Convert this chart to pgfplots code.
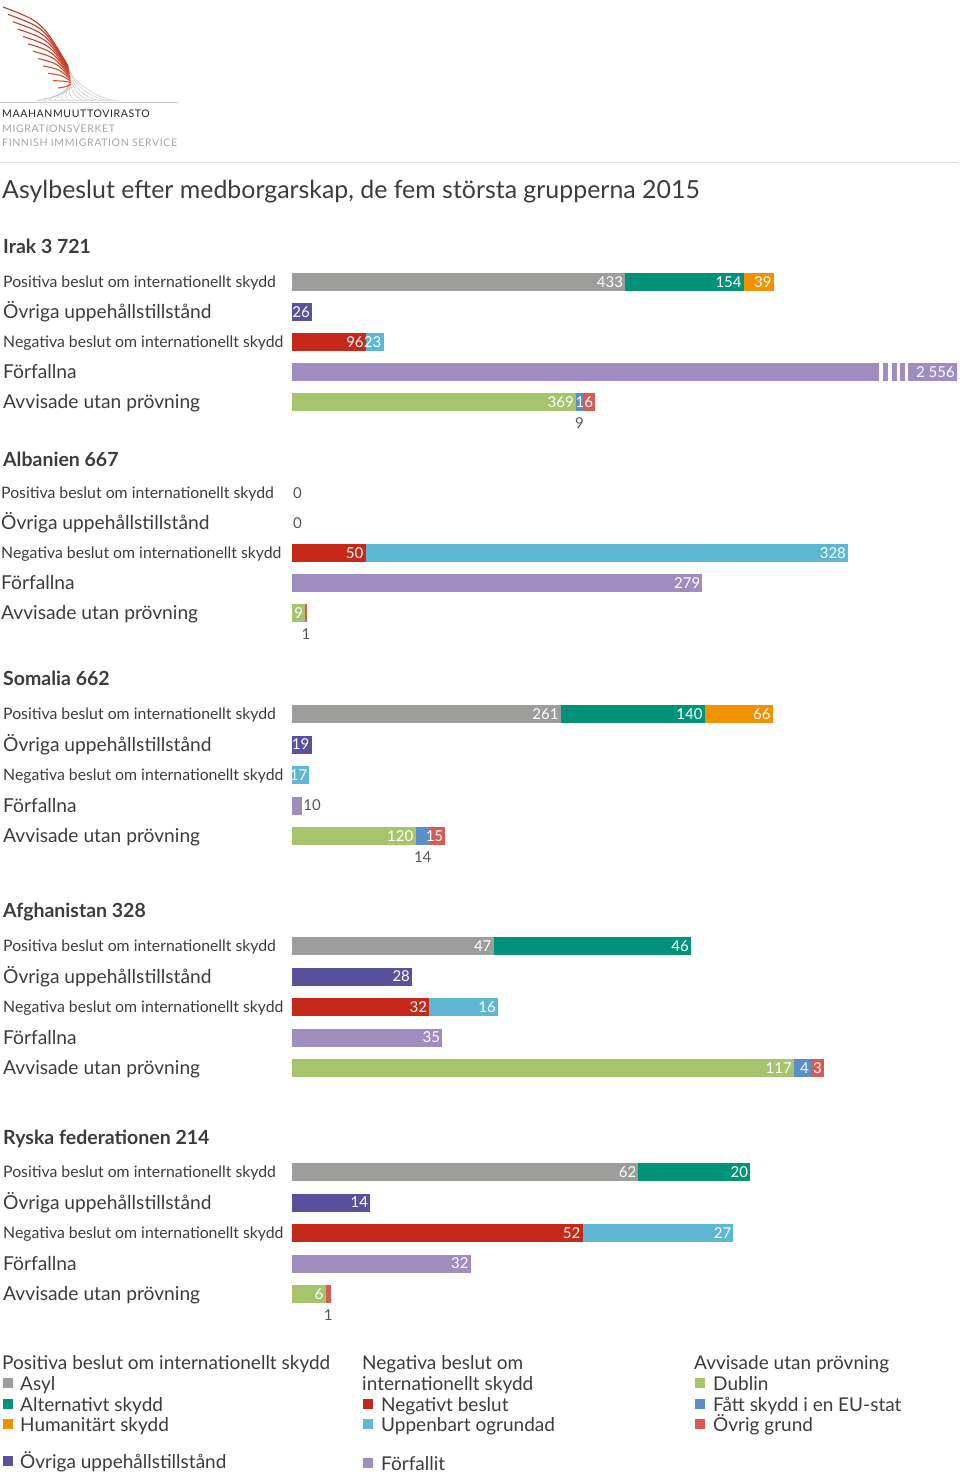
\documentclass[border=0pt]{standalone}
\usepackage{pgfplots}
\pgfplotsset{compat=1.18}
\usepackage{pgfplotstable}
\usepackage{fontspec}
\setmainfont{Lato}
\definecolor{cAsyl}{HTML}{9D9D9C}
\definecolor{cAlt}{HTML}{00937A}
\definecolor{cHum}{HTML}{F39200}
\definecolor{cOvr}{HTML}{5A519C}
\definecolor{cNeg}{HTML}{C6281A}
\definecolor{cUpp}{HTML}{5DB7D3}
\definecolor{cForf}{HTML}{A08DBF}
\definecolor{cDub}{HTML}{A6C46B}
\definecolor{cEU}{HTML}{5A8DCA}
\definecolor{cOvg}{HTML}{D65B55}
\definecolor{txt}{HTML}{3C3C3B}
\definecolor{txtl}{HTML}{555555}
\definecolor{logoR}{HTML}{C0392B}
\definecolor{logoO}{HTML}{E8652C}

\pgfplotstableread{
row asyl alt hum ovr neg upp forf dub eu ovg
0 433 154 39 0 0 0 0 0 0 0
1 0 0 0 26 0 0 0 0 0 0
2 0 0 0 0 96 23 0 0 0 0
3 0 0 0 0 0 0 2556 0 0 0
4 0 0 0 0 0 0 0 369 9 16
}\irak
\pgfplotstableread{
row asyl alt hum ovr neg upp forf dub eu ovg
0 0 0 0 0 0 0 0 0 0 0
1 0 0 0 0 0 0 0 0 0 0
2 0 0 0 0 50 328 0 0 0 0
3 0 0 0 0 0 0 279 0 0 0
4 0 0 0 0 0 0 0 9 0 1
}\albanien
\pgfplotstableread{
row asyl alt hum ovr neg upp forf dub eu ovg
0 261 140 66 0 0 0 0 0 0 0
1 0 0 0 19 0 0 0 0 0 0
2 0 0 0 0 0 17 0 0 0 0
3 0 0 0 0 0 0 10 0 0 0
4 0 0 0 0 0 0 0 120 14 15
}\somalia
\pgfplotstableread{
row asyl alt hum ovr neg upp forf dub eu ovg
0 47 46 0 0 0 0 0 0 0 0
1 0 0 0 28 0 0 0 0 0 0
2 0 0 0 0 32 16 0 0 0 0
3 0 0 0 0 0 0 35 0 0 0
4 0 0 0 0 0 0 0 117 4 3
}\afghanistan
\pgfplotstableread{
row asyl alt hum ovr neg upp forf dub eu ovg
0 62 20 0 0 0 0 0 0 0 0
1 0 0 0 14 0 0 0 0 0 0
2 0 0 0 0 52 27 0 0 0 0
3 0 0 0 0 0 0 32 0 0 0
4 0 0 0 0 0 0 0 6 0 1
}\ryska

\newcommand\bars[1]{%
\addplot[fill=cAsyl] table[x=asyl,y=row]{#1};
\addplot[fill=cAlt] table[x=alt,y=row]{#1};
\addplot[fill=cHum] table[x=hum,y=row]{#1};
\addplot[fill=cOvr] table[x=ovr,y=row]{#1};
\addplot[fill=cNeg] table[x=neg,y=row]{#1};
\addplot[fill=cUpp] table[x=upp,y=row]{#1};
\addplot[fill=cForf] table[x=forf,y=row]{#1};
\addplot[fill=cDub] table[x=dub,y=row]{#1};
\addplot[fill=cEU] table[x=eu,y=row]{#1};
\addplot[fill=cOvg] table[x=ovg,y=row]{#1};
}
\newcommand\smallf{\fontsize{15.8}{19}\selectfont}
\newcommand\bigf{\fontsize{19.2}{23}\selectfont}
\newcommand\valf{\fontsize{15}{18}\selectfont}
\newcommand\legf{\fontsize{19}{22}\selectfont}
\newcommand\rowlabels[1]{%
\node[anchor=base west, inner sep=0pt, text=txt, font=\smallf, xshift=#1, yshift=-5.6pt] at (axis cs:0,0) {Positiva beslut om internationellt skydd};
\node[anchor=base west, inner sep=0pt, text=txt, font=\bigf, xshift=#1, yshift=-6.8pt] at (axis cs:0,1) {Övriga uppehållstillstånd};
\node[anchor=base west, inner sep=0pt, text=txt, font=\smallf, xshift=#1, yshift=-5.6pt] at (axis cs:0,2) {Negativa beslut om internationellt skydd};
\node[anchor=base west, inner sep=0pt, text=txt, font=\bigf, xshift=#1, yshift=-6.8pt] at (axis cs:0,3) {Förfallna};
\node[anchor=base west, inner sep=0pt, text=txt, font=\bigf, xshift=#1, yshift=-6.8pt] at (axis cs:0,4) {Avvisade utan prövning};
}
\newcommand\heading[2]{\node[anchor=base west, inner sep=0pt, text=txt, font=\fontsize{19.5}{23}\bfseries, xshift=-289pt, yshift=-7pt] at (axis cs:0,#2) {#1};}
\newcommand\vl[3]{\node[anchor=base east, inner sep=0pt, text=white, font=\valf, xshift=-2pt, yshift=-5.3pt] at (axis cs:#1,#2) {#3};}
\newcommand\vo[3]{\node[anchor=base west, inner sep=0pt, text=txtl, font=\valf, xshift=1pt, yshift=-5.3pt] at (axis cs:#1,#2) {#3};}
\newcommand\vb[3]{\node[anchor=base, inner sep=0pt, text=txtl, font=\valf, yshift=-26pt] at (axis cs:#1,#2) {#3};}

\pgfplotsset{grp/.style={
  xbar stacked, bar width=18pt, width=665pt, height=#1, scale only axis,
  xmin=0, ymin=-0.5, ymax=4.5, y dir=reverse, hide axis, clip mode=individual,
  every axis plot/.append style={draw=none}, anchor=north west}}

\begin{document}
\begin{tikzpicture}[x=1pt,y=1pt]
\useasboundingbox (0,0) rectangle (960,-1475);
% logo
\foreach \i in {0,...,11}{
  \pgfmathsetmacro\t{\i/11}
  \pgfmathsetmacro\sx{3+55*\t}
  \pgfmathsetmacro\sy{-(7+81*\t)}
  \pgfmathsetmacro\ex{68+3*\t}
  \pgfmathsetmacro\ey{-(66+18*\t)}
  \pgfmathsetmacro\fx{120-78*\t}
  \pgfmathsetmacro\mix{100-60*\t}
  \draw[gray!45, line width=0.5pt] (\ex,\ey) .. controls (\ex+2,\ey-14) and (\fx-22,-101) .. (\fx,-101);
  \draw[logoR!\mix!logoO, line width=1.1pt] (\sx,\sy) .. controls ({\sx+0.6*(\ex-\sx)},{\sy+0.25*(\ey-\sy)}) .. (\ex,\ey);
}
\draw[gray!40, line width=0.6pt] (0,-102) -- (178,-102);
\node[anchor=base west, inner sep=0pt, text=black!85, font=\fontsize{10.5}{12}\selectfont\addfontfeature{LetterSpace=6}] at (2,-117) {MAAHANMUUTTOVIRASTO};
\node[anchor=base west, inner sep=0pt, text=gray!70, font=\fontsize{10.5}{12}\selectfont\addfontfeature{LetterSpace=6}] at (2,-132) {MIGRATIONSVERKET};
\node[anchor=base west, inner sep=0pt, text=gray!70, font=\fontsize{10.5}{12}\selectfont\addfontfeature{LetterSpace=6}] at (2,-146) {FINNISH IMMIGRATION SERVICE};
\draw[gray!25, line width=0.8pt] (0,-162) -- (958,-162);
\node[anchor=base west, inner sep=0pt, text=txt, font=\fontsize{24.9}{30}\selectfont] at (2,-198) {Asylbeslut efter medborgarskap, de fem största grupperna 2015};

% Irak
\begin{axis}[grp=150pt, at={(292pt,-267pt)}, xmax=864,
  after end axis/.code={%
    \fill[white] (axis cs:762.6,2.6) rectangle (axis cs:767.8,3.4);
    \fill[white] (axis cs:774.3,2.6) rectangle (axis cs:779.5,3.4);
    \fill[white] (axis cs:786.0,2.6) rectangle (axis cs:789.9,3.4);
    \fill[white] (axis cs:796.4,2.6) rectangle (axis cs:800.3,3.4);
    \rowlabels{-289pt}
    \heading{Irak 3 721}{-1.2}
    \vl{433}{0}{433}\vl{587}{0}{154}\vl{626}{0}{39}
    \vl{26}{1}{26}
    \vl{96}{2}{96}\vl{119}{2}{23}
    \vl{864}{3}{2 556}
    \vl{369}{4}{369}\vb{373.5}{4}{9}\vl{394}{4}{16}}]
\bars{\irak}
\end{axis}

% Albanien
\begin{axis}[grp=150pt, at={(292pt,-478pt)}, xmax=452,
  after end axis/.code={%
    \rowlabels{-291pt}
    \heading{Albanien 667}{-1.13}
    \vo{0}{0}{0}\vo{0}{1}{0}
    \vl{50}{2}{50}\vl{378}{2}{328}
    \vl{279}{3}{279}
    \vl{9}{4}{9}\vb{9.5}{4}{1}}]
\bars{\albanien}
\end{axis}

% Somalia
\begin{axis}[grp=152.5pt, at={(292pt,-698.75pt)}, xmax=646,
  after end axis/.code={%
    \rowlabels{-289pt}
    \heading{Somalia 662}{-1.15}
    \vl{261}{0}{261}\vl{401}{0}{140}\vl{467}{0}{66}
    \vl{19}{1}{19}
    \vl{17}{2}{17}
    \vo{10}{3}{10}
    \vl{120}{4}{120}\vb{127}{4}{14}\vl{149}{4}{15}}]
\bars{\somalia}
\end{axis}

% Afghanistan
\begin{axis}[grp=152.5pt, at={(292pt,-930.75pt)}, xmax=155,
  after end axis/.code={%
    \rowlabels{-289pt}
    \heading{Afghanistan 328}{-1.15}
    \vl{47}{0}{47}\vl{93}{0}{46}
    \vl{28}{1}{28}
    \vl{32}{2}{32}\vl{48}{2}{16}
    \vl{35}{3}{35}
    \vl{117}{4}{117}\vl{121}{4}{4}\vl{124}{4}{3}}]
\bars{\afghanistan}
\end{axis}

% Ryska
\begin{axis}[grp=152.5pt, at={(292pt,-1156.75pt)}, xmax=119,
  after end axis/.code={%
    \rowlabels{-289pt}
    \heading{Ryska federationen 214}{-1.12}
    \vl{62}{0}{62}\vl{82}{0}{20}
    \vl{14}{1}{14}
    \vl{52}{2}{52}\vl{79}{2}{27}
    \vl{32}{3}{32}
    \vl{6}{4}{6}\vb{6.5}{4}{1}}]
\bars{\ryska}
\end{axis}

% legend
\begin{scope}[every node/.style={anchor=base west, inner sep=0pt, text=txt, font=\legf}]
\node at (2,-1369) {Positiva beslut om internationellt skydd};
\fill[cAsyl] (3,-1378) rectangle (13,-1388); \node at (20,-1390) {Asyl};
\fill[cAlt] (3,-1399) rectangle (13,-1409); \node at (20,-1411) {Alternativt skydd};
\fill[cHum] (3,-1419) rectangle (13,-1429); \node at (20,-1431) {Humanitärt skydd};
\fill[cOvr] (3,-1456) rectangle (13,-1466); \node at (20,-1468) {Övriga uppehållstillstånd};
\node at (362,-1369) {Negativa beslut om};
\node at (362,-1390) {internationellt skydd};
\fill[cNeg] (363,-1399) rectangle (373,-1409); \node at (381,-1411) {Negativt beslut};
\fill[cUpp] (363,-1419) rectangle (373,-1429); \node at (381,-1431) {Uppenbart ogrundad};
\fill[cForf] (363,-1458) rectangle (373,-1468); \node at (381,-1470) {Förfallit};
\node at (694,-1369) {Avvisade utan prövning};
\fill[cDub] (695,-1378) rectangle (705,-1388); \node at (713,-1390) {Dublin};
\fill[cEU] (695,-1399) rectangle (705,-1409); \node at (713,-1411) {Fått skydd i en EU-stat};
\fill[cOvg] (695,-1419) rectangle (705,-1429); \node at (713,-1431) {Övrig grund};
\end{scope}
\end{tikzpicture}
\end{document}
